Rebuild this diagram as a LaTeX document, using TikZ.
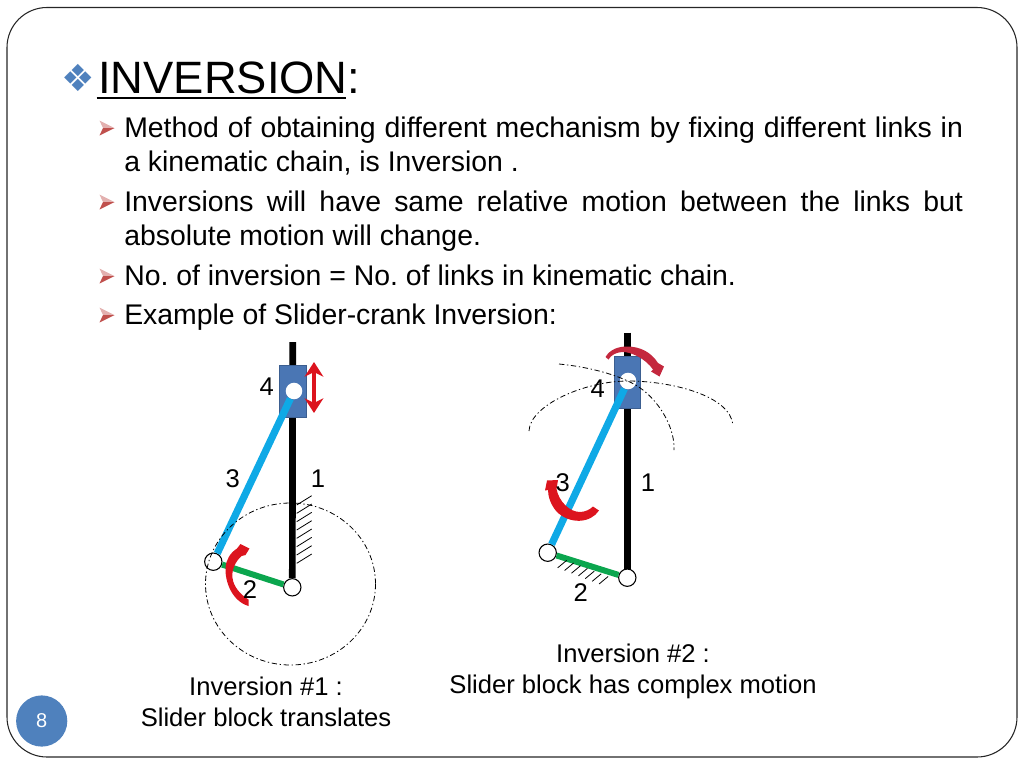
\documentclass[tikz,border=0pt]{standalone}
\usepackage{fontspec}
\setmainfont{Liberation Sans}
\newfontfamily\symfont{DejaVu Sans}
\usetikzlibrary{arrows.meta}
\hyphenpenalty=10000
\exhyphenpenalty=10000
\frenchspacing
\definecolor{blockcol}{HTML}{4A76B4}
\definecolor{crankcol}{HTML}{0FA9E6}
\definecolor{greencol}{HTML}{0BA64E}
\definecolor{pagecol}{HTML}{4F81BD}
\definecolor{bulletcol}{HTML}{C0504D}
\definecolor{arccol}{HTML}{C4283E}
\definecolor{redcol}{HTML}{DC141E}
\tikzset{>=latex}
\tikzset{joint/.style={inner sep=0pt,minimum size=13pt,circle,draw,line width=0.8pt,fill=white}}
\tikzset{hole/.style={inner sep=0pt,minimum size=12.4pt,circle,fill=white}}
\tikzset{block/.style={inner sep=0pt,minimum width=20pt,minimum height=38.8pt,fill=blockcol,draw=blockcol!80!black,line width=0.3pt}}
\tikzset{rail/.style={line width=5pt,black}}
\tikzset{crank/.style={line width=5.4pt,crankcol}}
\tikzset{link/.style={line width=4.5pt,greencol}}
\tikzset{hatch/.style={line width=0.6pt,black}}
\tikzset{path/.style={line width=0.6pt,black,dash pattern=on 4pt off 2pt on 1pt off 2pt}}
\tikzset{num/.style={inner sep=0pt,font=\fontsize{19.2}{23}\selectfont}}
\tikzset{caption/.style={inner sep=0pt,align=center,font=\fontsize{19.2}{23.2}\selectfont}}
\tikzset{item/.style={inner sep=0pt,anchor=north west,text width=629pt,align=justify,font=\fontsize{21.3}{25.5}\selectfont}}
\tikzset{dart/.pic={
    \fill[bulletcol!45] (-8,-7.5) -- (7,0) -- (-4.5,0) -- cycle;
    \fill[bulletcol] (-8,7.5) -- (7,0) -- (-4.5,0) -- cycle;
}}
\begin{document}
\begin{tikzpicture}[x=0.75pt,y=-0.75pt]
\useasboundingbox (0,0) rectangle (1024,768);
\draw[line width=0.8pt,rounded corners=30pt,black!85] (7,7.5) rectangle (1017,757);
\node[circle,fill=pagecol,minimum size=38.4pt,inner sep=0pt,text=white,font=\fontsize{15}{18}\selectfont] (page) at (41.7,721) {8};

\node[inner sep=0pt,anchor=base west,font=\fontsize{34}{40}\selectfont] (title) at (98,93) {INVERSION:};
\node[inner sep=0pt,text=pagecol,font=\symfont\fontsize{28}{28}\selectfont] (titletip) at (78,78) {❖};
\coordinate (ulA) at (96.5,98);
\coordinate (ulB) at (346,98);
\draw[line width=2pt] (ulA) -- (ulB);

\node[item] (m1) at (124,117) {Method of obtaining different mechanism by fixing different links in a kinematic chain, is Inversion .};
\node[item] (m2) at (124,191) {Inversions will have same relative motion between the links but absolute motion will change.};
\node[item] (m3) at (124,265) {No. of inversion = No. of links in kinematic chain.};
\node[item] (m4) at (124,304) {Example of Slider-crank Inversion:};
\pic at (107.5,128) {dart};
\pic at (107.5,202) {dart};
\pic at (107.5,276) {dart};
\pic at (107.5,315) {dart};

\coordinate (Atop) at (292.7,342);
\node[joint] (Acrank) at (292.3,587.3) {};
\node[joint] (Apin) at (213.3,561.7) {};
\draw[rail] (Atop) -- (Acrank);
\node[block] (Ablock) at (292.7,391) {};
\node[hole] (Ahole) at (294,391) {};
\draw[crank] (Ahole) -- (Apin);
\draw[link] (Apin) -- (Acrank);
\foreach \i in {0,...,7}
    \draw[hatch] (296.7,505+8.33*\i) -- (311.7,495.7+8.33*\i);
\draw[path] (290.5,584) ellipse [x radius=85,y radius=81];
\coordinate (Aup) at (314,362);
\coordinate (Adown) at (314,413);
\draw[<->,redcol,line width=2.8pt,>={Stealth[length=11pt,width=14pt,inset=3.5pt]}] (Aup) -- (Adown);
\fill[redcol] (248.5,606) .. controls (232,601) and (225,582) .. (225.5,568) .. controls (226,560) and (230,553) .. (237,548.5) -- (240.5,544) -- (249.5,548.5) -- (245.5,555) -- (241.5,556) .. controls (235,562) and (231.5,570) .. (232.5,578) .. controls (233.5,587) and (241,595) .. (248.5,599.5) -- cycle;
\node[num] (A4) at (266.7,387) {4};
\node[num] (A3) at (232.7,479) {3};
\node[num] (A1) at (318,479) {1};
\node[num] (A2) at (250,590) {2};
\node[caption] (Acap) at (266,702) {Inversion \#1 :\\Slider block translates};

\coordinate (Btop) at (627.3,332.7);
\node[joint] (Bcrank) at (627.3,577.7) {};
\node[joint] (Bpin) at (547.7,552.7) {};
\draw[rail] (Btop) -- (Bcrank);
\node[block] (Bblock) at (627.2,382) {};
\node[hole] (Bhole) at (628,381) {};
\draw[crank] (Bhole) -- (Bpin);
\draw[link] (Bpin) -- (Bcrank);
\foreach \i in {0,...,6}
    \draw[hatch] (566.7+6.9*\i,560.3+2.7*\i) -- (557.7+6.9*\i,567.8+2.7*\i);
\draw[path] (529,431) .. controls (530,405) and (585,381) .. (628,381) .. controls (670,381) and (730,395) .. (733,425);
\draw[path] (559,364) .. controls (590,367) and (625,376) .. (643,390) .. controls (662,405) and (675,430) .. (674,450);
\fill[arccol] (605.5,357) .. controls (610,349.5) and (618,346.5) .. (627,346.5) .. controls (640,346.5) and (651,352) .. (658,363) -- (664,366.5) -- (659.5,376.5) -- (651,371.5) -- (653,369.5) .. controls (645,358) and (630,351.5) .. (622,352) .. controls (616,352.5) and (611,355) .. (608.5,359.5) -- cycle;
\fill[redcol] (599,510.5) .. controls (591,523) and (570,525) .. (556.5,511.5) .. controls (551,505) and (548,497) .. (548,490) -- (545,490.5) -- (547,480.5) -- (558,480) -- (556.5,489) .. controls (559,502) and (570,512) .. (580,512) .. controls (585,512) and (590,509.5) .. (593,506.5) -- cycle;
\node[num] (B4) at (597.7,389) {4};
\node[num] (B3) at (562.7,482.7) {3};
\node[num] (B1) at (648,482.7) {1};
\node[num] (B2) at (580.7,593) {2};
\node[caption] (Bcap) at (633,671) {Inversion \#2 :\\Slider block has complex motion};
\end{tikzpicture}
\end{document}
